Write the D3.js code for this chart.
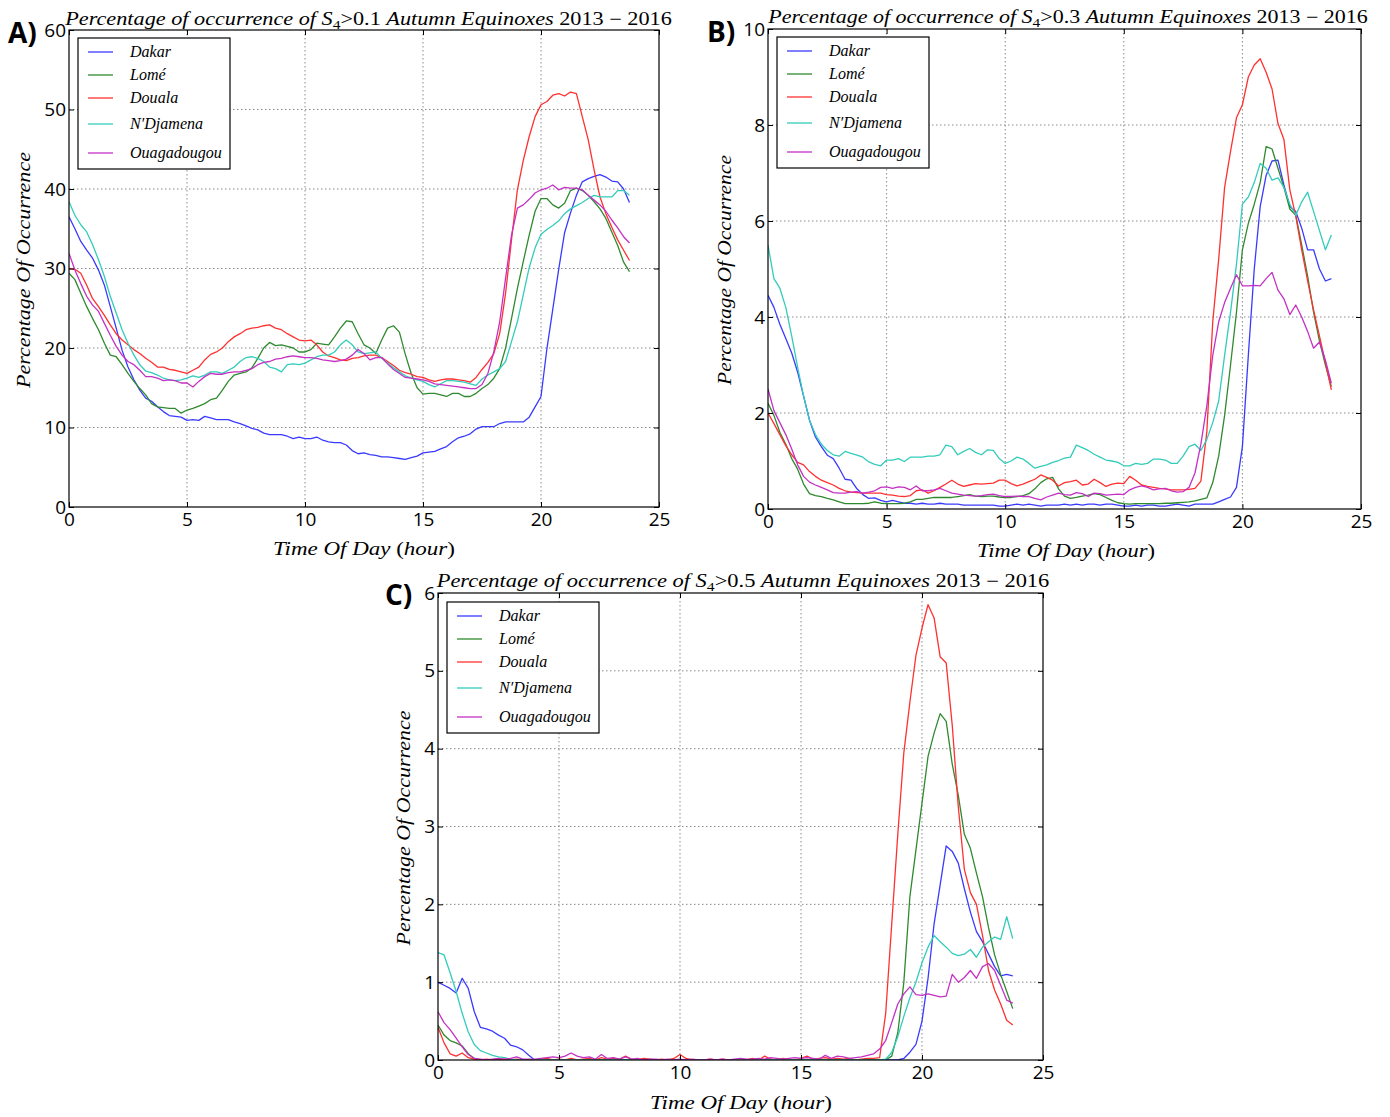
<!DOCTYPE html>
<html><head><meta charset="utf-8">
<script src="https://cdn.jsdelivr.net/npm/d3@7"></script>
<style>body{margin:0;background:#fff;} svg{display:block}</style>
</head><body>
<svg id="chart" width="1390" height="1117"></svg>
<script>
// ---------- DATA ----------
const HOURS = d3.range(0, 24, 0.25); // sample times (15-min)
const CITIES = ["Dakar", "Lomé", "Douala", "N′Djamena", "Ouagadougou"];
const COLORS = ["#3a3aff", "#2f8a2f", "#ff3030", "#33ccbb", "#c431c4"];
const X_TICKS = [0, 5, 10, 15, 20, 25];
const Y_TICKS_A = [0, 10, 20, 30, 40, 50, 60];
const Y_TICKS_B = [0, 2, 4, 6, 8, 10];
const Y_TICKS_C = [0, 1, 2, 3, 4, 5, 6];
const THRESHOLDS = ["0.1", "0.3", "0.5"];

// Panel A : S4 > 0.1
const A_DAKAR = [36.5,35,33.4,32.3,31.3,29.8,27.9,25.2,22.5,19.7,17.6,16,14.7,13.7,13.3,12.6,12,11.5,11.4,11.3,
 10.9,11,10.9,11.4,11.2,11,11,11,10.7,10.5,10.2,9.9,9.7,9.3,9.1,9.1,9.1,8.9,8.6,8.8,
 8.6,8.6,8.8,8.4,8.2,8.1,8.1,7.8,7.1,6.7,6.8,6.6,6.5,6.3,6.3,6.2,6.1,6.0,6.2,6.4,
 6.8,6.9,7.0,7.3,7.6,8.2,8.7,8.9,9.2,9.8,10.1,10.1,10.1,10.5,10.7,10.7,10.7,10.7,11.3,12.6,
 13.9,19.9,24.9,29.9,34.5,37,39.2,40.9,41.3,41.6,41.8,41.5,41.0,40.9,40.0,38.3];
const A_LOME = [29.4,28.6,26.9,25.2,23.7,22.3,20.6,19.1,18.9,17.9,16.8,15.8,14.9,14.1,13.0,12.6,12.5,12.4,12.4,11.8,
 12.2,12.4,12.7,13.0,13.5,13.7,14.7,15.8,16.6,16.8,17.0,17.5,18.7,20.0,20.7,20.3,20.4,20.2,20.0,19.5,
 19.5,19.8,20.6,20.5,20.4,21.4,22.5,23.4,23.3,21.8,20.4,20.0,19.3,21.0,22.5,22.8,22.0,19.2,16.8,15.0,
 14.2,14.3,14.3,14.1,13.9,14.3,14.3,13.9,13.9,14.3,14.9,15.4,16.2,17.4,20,23.7,27.5,30.9,34.2,37.2,
 38.8,38.8,38,37.6,38.2,39.8,40.1,39.8,39.2,38.4,37.5,36.3,34.6,32.9,30.8,29.6];
const A_DOUALA = [30.0,29.9,29.4,27.9,26.2,25.2,24.1,22.9,21.8,21.0,20.4,19.8,19.3,18.7,18.2,17.6,17.6,17.3,17.2,17.0,
 16.8,17.2,17.6,18.5,19.2,19.5,20.0,20.8,21.4,21.8,22.3,22.5,22.6,22.8,22.9,22.5,22.3,21.8,21.4,21.0,
 20.9,21.0,20.4,19.5,19.0,18.8,18.5,18.4,18.7,18.8,19.0,19.1,19.1,18.8,18.3,17.8,17.2,16.9,16.7,16.4,
 16.3,16.0,15.8,16.0,16.1,16.1,16.0,15.9,15.7,16.3,17.3,18.2,19.3,21.8,26.9,33.6,39.9,43.6,46.6,49.1,
 50.6,51,51.8,52,51.7,52.2,52,49.1,46.2,42.4,39,36.9,35.2,33.6,32.3,31];
const A_NDJAMENA = [38.4,36.7,35.5,34.6,33.0,31.1,29.0,26.5,24.4,22.3,20.6,19.1,17.9,17.1,16.9,16.6,16.2,16.0,15.9,16.0,
 16.2,16.5,16.3,16.6,17.0,17.0,16.8,17.2,17.6,18.3,18.8,18.9,18.7,18.3,17.6,17.4,17.0,17.9,18.0,17.9,
 18.1,18.5,18.9,19.1,19.1,19.5,20.4,21.0,20.4,19.5,19.3,19.4,19.5,18.7,18.1,17.5,17.0,16.5,16.2,16.0,
 15.8,15.4,15.1,15.5,15.9,15.9,15.8,15.7,15.5,15.3,16.1,16.6,17.0,17.4,18.3,20.8,23.3,26.7,30.1,32.6,
 34.3,34.9,35.4,36,36.9,37.5,37.9,38.3,38.8,39.2,39,39,39,39.8,39.8,39.2];
const A_OUAGA = [31.9,29.8,28.1,26.5,25.4,24.6,23.1,21.6,20.2,19.1,18.3,17.9,17.2,16.4,16.4,16.2,15.9,16.0,15.9,15.6,
 15.6,15.1,15.8,16.4,16.8,16.7,16.7,16.9,17.0,17.0,17.2,17.4,17.9,18.2,18.3,18.6,18.7,18.9,19.0,18.9,
 18.8,18.8,18.7,18.5,18.4,18.3,18.4,18.6,19.1,19.8,19.3,18.5,18.8,18.8,18.0,17.3,16.8,16.3,16.2,16.1,
 16.0,15.8,15.5,15.4,15.3,15.2,15.1,15.0,14.9,14.9,15.4,16.8,19.5,23.3,28.8,34.2,37.6,38,38.7,39.5,
 39.9,40.1,40.5,39.9,40.2,40.1,40.1,39.9,39.2,38.6,38,37.2,36.1,35.1,34,33.2];

// Panel B : S4 > 0.3
const B_DAKAR = [4.45,4.2,3.85,3.55,3.25,2.85,2.35,1.85,1.5,1.3,1.12,1.05,0.85,0.62,0.6,0.42,0.3,0.22,0.23,0.18,
 0.15,0.18,0.15,0.12,0.12,0.1,0.12,0.1,0.1,0.12,0.1,0.1,0.1,0.08,0.08,0.08,0.08,0.08,0.08,0.06,
 0.06,0.08,0.1,0.08,0.1,0.08,0.06,0.08,0.08,0.08,0.1,0.08,0.1,0.08,0.1,0.1,0.08,0.1,0.1,0.08,
 0.06,0.06,0.08,0.06,0.08,0.08,0.06,0.06,0.08,0.1,0.08,0.06,0.1,0.1,0.1,0.1,0.15,0.2,0.25,0.45,
 1.3,3.2,5.0,6.3,6.95,7.25,7.27,6.75,6.3,6.2,5.85,5.4,5.4,5.0,4.75,4.8];
const B_LOME = [2.2,1.95,1.6,1.35,1.05,0.83,0.52,0.32,0.28,0.26,0.22,0.19,0.15,0.11,0.11,0.11,0.11,0.12,0.15,0.12,
 0.11,0.11,0.11,0.12,0.15,0.2,0.2,0.22,0.24,0.24,0.24,0.24,0.26,0.28,0.3,0.27,0.26,0.27,0.27,0.25,
 0.24,0.24,0.26,0.28,0.32,0.42,0.55,0.63,0.66,0.42,0.27,0.22,0.24,0.27,0.29,0.32,0.3,0.24,0.18,0.13,
 0.11,0.1,0.11,0.11,0.11,0.11,0.11,0.12,0.12,0.13,0.14,0.15,0.17,0.2,0.23,0.55,1.1,1.95,3.0,4.1,
 5.4,5.95,6.35,6.8,7.55,7.5,7.1,6.7,6.25,6.12,5.5,4.85,4.1,3.5,3.0,2.55];
const B_DOUALA = [2.0,1.78,1.55,1.32,1.13,0.97,0.92,0.78,0.68,0.6,0.55,0.5,0.43,0.38,0.35,0.34,0.33,0.33,0.33,0.33,
 0.3,0.29,0.27,0.26,0.28,0.38,0.4,0.33,0.38,0.45,0.52,0.6,0.52,0.47,0.5,0.53,0.52,0.53,0.54,0.6,
 0.6,0.53,0.48,0.52,0.57,0.62,0.71,0.66,0.6,0.48,0.55,0.57,0.6,0.5,0.52,0.62,0.55,0.47,0.52,0.54,
 0.53,0.68,0.6,0.5,0.47,0.45,0.43,0.42,0.4,0.4,0.4,0.41,0.43,0.58,1.6,3.9,5.2,6.7,7.45,8.15,
 8.42,9.0,9.25,9.38,9.1,8.75,8.03,7.7,6.65,6.1,5.4,4.75,4.15,3.6,3.05,2.48];
const B_NDJAMENA = [5.5,4.8,4.6,4.2,3.6,2.95,2.35,1.85,1.55,1.35,1.22,1.13,1.1,1.2,1.16,1.12,1.08,0.98,0.93,0.9,
 1.02,1.02,1.05,0.99,1.08,1.08,1.08,1.1,1.1,1.13,1.33,1.3,1.13,1.2,1.26,1.18,1.13,1.23,1.22,1.05,
 0.95,1.0,1.08,1.04,0.95,0.85,0.89,0.92,0.97,1.01,1.06,1.08,1.33,1.28,1.22,1.14,1.08,1.02,1.0,0.97,
 0.9,0.9,0.95,0.93,0.95,1.04,1.04,1.02,0.95,0.95,1.1,1.3,1.35,1.22,1.45,1.8,2.25,3.2,4.1,5.1,
 6.35,6.5,6.8,7.2,7.1,6.85,6.9,6.7,6.35,6.12,6.4,6.6,6.2,5.8,5.4,5.71];
const B_OUAGA = [2.5,2.05,1.8,1.55,1.25,0.92,0.68,0.56,0.5,0.45,0.4,0.34,0.33,0.33,0.35,0.36,0.33,0.35,0.38,0.45,
 0.46,0.43,0.46,0.45,0.4,0.48,0.38,0.38,0.4,0.43,0.38,0.33,0.31,0.29,0.28,0.27,0.28,0.3,0.31,0.28,
 0.26,0.26,0.27,0.26,0.26,0.22,0.19,0.25,0.29,0.33,0.3,0.29,0.34,0.32,0.26,0.33,0.32,0.29,0.3,0.31,
 0.3,0.4,0.45,0.48,0.45,0.4,0.42,0.43,0.38,0.35,0.36,0.45,0.75,1.35,2.15,3.2,3.9,4.3,4.6,4.88,
 4.65,4.65,4.66,4.65,4.8,4.93,4.56,4.38,4.05,4.25,4.0,3.7,3.35,3.48,3.1,2.62];

// Panel C : S4 > 0.5  (one row of four values per hour)
const C_DAKAR = [
 1.0,0.96,0.92,0.86,  1.05,0.92,0.62,0.42,  0.4,0.37,0.32,0.28,  0.19,0.17,0.13,0.06,
 0,0,0,0, 0,0,0,0, 0,0,0,0, 0,0,0,0, 0,0,0,0,
 0,0,0,0, 0,0,0,0, 0,0,0,0, 0,0,0,0, 0,0,0,0,
 0,0,0,0, 0,0,0,0, 0,0,0,0, 0,0,0,0, 0,0,0,0,
 0,0.02,0.1,0.2,  0.5,1.05,1.75,2.25,  2.75,2.68,2.53,2.2,  1.9,1.65,1.52,1.36,  1.2,1.08,1.1,1.08];
const C_LOME = [
 0.45,0.32,0.25,0.22,  0.18,0.08,0.02,0,
 0,0,0,0, 0,0,0,0, 0,0,0,0, 0,0,0,0,
 0,0,0,0, 0,0,0,0, 0,0,0,0, 0,0,0,0,
 0,0,0,0, 0,0,0,0, 0,0,0,0, 0,0,0,0,
 0,0,0,0, 0,0,0,0, 0,0,0,0, 0,0,0,0,
 0,0,0,0.05,  0.35,1.0,2.1,2.7,  3.3,3.9,4.2,4.45,  4.35,3.8,3.4,2.9,  2.72,2.4,2.1,1.7,  1.35,1.1,0.88,0.66];
const C_DOUALA = [
 0.42,0.22,0.08,0.05,  0.09,0.03,0.01,0,
 0.01,0,0,0.01, 0,0.01,0,0, 0,0.01,0.02,0, 0.01,0,0.02,0, 0.01,0.02,0,0.03, 0.01,0.02,0.01,0.05,
 0.01,0,0.02,0.01, 0,0.01,0,0.02, 0.07,0.02,0,0, 0,0.01,0,0.01, 0,0,0.01,0, 0.02,0,0.05,0.01,
 0,0.02,0.01,0, 0.02,0.05,0.01,0.02, 0.03,0.01,0.02,0.01, 0.02,0,0.01,0.02,
 0.02,0.03,0.6,1.75,  2.9,3.95,4.6,5.2,  5.55,5.85,5.68,5.18,  5.1,4.3,3.25,2.45,  2.15,2.0,1.6,1.15,  0.9,0.72,0.51,0.45];
const C_NDJAMENA = [
 1.38,1.35,1.12,0.88,  0.6,0.36,0.2,0.12,  0.09,0.06,0.04,0.03,  0.01,0,0,0,
 0,0,0,0, 0,0,0,0, 0,0,0,0, 0,0,0,0, 0,0,0,0, 0,0,0,0, 0,0,0,0,
 0,0,0,0, 0,0,0,0, 0,0,0,0, 0,0,0,0, 0,0,0,0, 0,0,0,0, 0,0,0,0,
 0,0,0.01,0.1,  0.3,0.56,0.8,1.0,  1.25,1.45,1.6,1.52,  1.45,1.37,1.34,1.36,  1.42,1.32,1.45,1.52,  1.58,1.55,1.84,1.56];
const C_OUAGA = [
 0.62,0.48,0.39,0.28,  0.17,0.07,0.02,0.01,
 0,0.01,0.02,0.01, 0.02,0.04,0.01,0.01, 0.01,0.02,0.03,0.04, 0.03,0.05,0.09,0.05, 0.03,0.04,0.01,0.07,
 0.02,0.03,0.01,0.04, 0.01,0.02,0,0.01, 0.01,0,0.01,0, 0.01,0,0.01,0, 0,0.01,0,0.01, 0,0.01,0.02,0.01,
 0.01,0.02,0.01,0.03, 0.02,0.01,0.02,0.03, 0.02,0.03,0.02,0.01, 0.06,0.02,0.05,0.04, 0.02,0.03,0.04,0.06,
 0.08,0.14,0.25,0.48,  0.72,0.85,0.94,0.84,  0.83,0.85,0.83,0.81,  0.82,1.1,1.0,1.06,  1.15,1.05,1.2,1.24,  1.15,0.96,0.77,0.73];

// ---------- LAYOUT ----------
const PANELS = [
  { tag: "A)", thr: THRESHOLDS[0], left: 69, right: 659, top: 30, bottom: 507, ymax: 60, yticks: Y_TICKS_A,
    series: [A_DAKAR, A_LOME, A_DOUALA, A_NDJAMENA, A_OUAGA],
    legend: [78, 38], title: [368.5, 25, 607], ylab: [30, 270, 236], xlab: [364, 555, 182], tagPos: [8, 43] },
  { tag: "B)", thr: THRESHOLDS[1], left: 768, right: 1361, top: 29, bottom: 509, ymax: 10, yticks: Y_TICKS_B,
    series: [B_DAKAR, B_LOME, B_DOUALA, B_NDJAMENA, B_OUAGA],
    legend: [777, 37], title: [1068, 23, 600], ylab: [731, 270, 230], xlab: [1066, 557, 178], tagPos: [707, 42] },
  { tag: "C)", thr: THRESHOLDS[2], left: 438, right: 1043, top: 593, bottom: 1060, ymax: 6, yticks: Y_TICKS_C,
    series: [C_DAKAR, C_LOME, C_DOUALA, C_NDJAMENA, C_OUAGA],
    legend: [447, 602], title: [743, 587, 613], ylab: [410, 828, 235], xlab: [741, 1109, 182], tagPos: [385, 605] }
];

const SERIF = "'Liberation Serif', 'DejaVu Serif', serif";
const SANS = "'Open Sans', 'DejaVu Sans', sans-serif";
const svg = d3.select("#chart");

function addParts(textSel, parts) {
  parts.forEach(p => {
    const t = textSel.append("tspan").text(p.t)
      .attr("font-style", p.it ? "italic" : "normal");
    if (p.sub) t.attr("font-size", "0.7em").attr("dy", 4);
    if (p.up) t.attr("dy", -4);
  });
}
function fitX(textSel, cx, cy, target, rotate) {
  const w = textSel.node().getComputedTextLength();
  const s = target / w;
  textSel.attr("text-anchor", "middle").attr("x", 0).attr("y", 0)
    .attr("transform", `translate(${cx},${cy})` + (rotate ? " rotate(-90)" : "") + ` scale(${s},1)`);
}

PANELS.forEach((P, pi) => {
  const x = d3.scaleLinear().domain([0, 25]).range([P.left, P.right]);
  const y = d3.scaleLinear().domain([0, P.ymax]).range([P.bottom, P.top]);
  const g = svg.append("g");

  // clip
  const cid = "clip" + pi;
  g.append("clipPath").attr("id", cid).append("rect")
    .attr("x", P.left).attr("y", P.top).attr("width", P.right - P.left).attr("height", P.bottom - P.top);

  // grid
  const grid = g.append("g").attr("stroke", "#8a8a8a").attr("stroke-width", 1).attr("stroke-dasharray", "1.5,2.5");
  grid.selectAll(".vx").data(X_TICKS.slice(1, -1)).join("line")
    .attr("x1", d => x(d)).attr("x2", d => x(d)).attr("y1", P.top).attr("y2", P.bottom);
  grid.selectAll(".hy").data(P.yticks.slice(1, -1)).join("line")
    .attr("y1", d => y(d)).attr("y2", d => y(d)).attr("x1", P.left).attr("x2", P.right);

  // lines
  const line = d3.line().x((d, i) => x(HOURS[i])).y(d => y(d));
  const lg = g.append("g").attr("clip-path", `url(#${cid})`);
  P.series.forEach((s, k) => {
    lg.append("path").attr("d", line(s)).attr("fill", "none")
      .attr("stroke", COLORS[k]).attr("stroke-width", 1.3).attr("stroke-linejoin", "round");
  });

  // axes
  const fmt = d3.format("d");
  const ax = g.append("g").attr("transform", `translate(0,${P.bottom})`)
    .call(d3.axisBottom(x).tickValues(X_TICKS).tickFormat(fmt).tickSizeInner(-5).tickSizeOuter(0).tickPadding(5));
  const axT = g.append("g").attr("transform", `translate(0,${P.top})`)
    .call(d3.axisTop(x).tickValues(X_TICKS).tickFormat("").tickSizeInner(-5).tickSizeOuter(0));
  const ay = g.append("g").attr("transform", `translate(${P.left},0)`)
    .call(d3.axisLeft(y).tickValues(P.yticks).tickFormat(fmt).tickSizeInner(-5).tickSizeOuter(0).tickPadding(3));
  const ayR = g.append("g").attr("transform", `translate(${P.right},0)`)
    .call(d3.axisRight(y).tickValues(P.yticks).tickFormat("").tickSizeInner(-5).tickSizeOuter(0));
  [ax, axT, ay, ayR].forEach(a => {
    a.select(".domain").remove();
    a.selectAll("text").attr("font-family", SANS).attr("font-size", 19).attr("fill", "#000");
    a.selectAll("line").attr("stroke", "#000");
  });

  // frame
  g.append("rect").attr("x", P.left).attr("y", P.top).attr("width", P.right - P.left)
    .attr("height", P.bottom - P.top).attr("fill", "none").attr("stroke", "#000").attr("stroke-width", 1.2);

  // legend
  const [lx, ly] = P.legend;
  const leg = g.append("g");
  leg.append("rect").attr("x", lx).attr("y", ly).attr("width", 152).attr("height", 131)
    .attr("fill", "#fff").attr("stroke", "#000").attr("stroke-width", 1.2);
  const rowY = [14, 37, 60, 86, 115];
  const labels = [];
  CITIES.forEach((c, k) => {
    leg.append("line").attr("x1", lx + 10).attr("x2", lx + 35)
      .attr("y1", ly + rowY[k]).attr("y2", ly + rowY[k])
      .attr("stroke", COLORS[k]).attr("stroke-width", 1.3);
    labels.push(leg.append("text").attr("x", 0).attr("y", 0)
      .attr("font-family", SERIF).attr("font-style", "italic").attr("font-size", 16).attr("fill", "#000")
      .text(c));
  });
  const wO = labels[4].node().getComputedTextLength();
  const sL = 92 / wO;
  labels.forEach((t, k) => t.attr("transform", `translate(${lx + 52},${ly + rowY[k] + 5}) scale(${sL},1)`));

  // title
  const tt = g.append("text").attr("font-family", SERIF).attr("font-size", 18).attr("fill", "#000");
  addParts(tt, [
    { t: "Percentage of occurrence of ", it: true },
    { t: "S", it: true }, { t: "4", sub: true }, { t: ">" + P.thr + " ", up: true },
    { t: "Autumn Equinoxes ", it: true }, { t: "2013 − 2016" }
  ]);
  fitX(tt, P.title[0], P.title[1], P.title[2], false);

  // y label
  const yl = g.append("text").attr("font-family", SERIF).attr("font-size", 18).attr("fill", "#000")
    .attr("font-style", "italic").text("Percentage Of Occurrence");
  fitX(yl, P.ylab[0], P.ylab[1], P.ylab[2], true);

  // x label
  const xl = g.append("text").attr("font-family", SERIF).attr("font-size", 19).attr("fill", "#000");
  addParts(xl, [{ t: "Time Of Day ", it: true }, { t: "(" }, { t: "hour", it: true }, { t: ")" }]);
  fitX(xl, P.xlab[0], P.xlab[1], P.xlab[2], false);

  // panel tag
  g.append("text").attr("x", P.tagPos[0]).attr("y", P.tagPos[1])
    .attr("font-family", SANS).attr("font-weight", "bold").attr("font-size", 28).attr("fill", "#000")
    .text(P.tag);
});
</script>
</body></html>
